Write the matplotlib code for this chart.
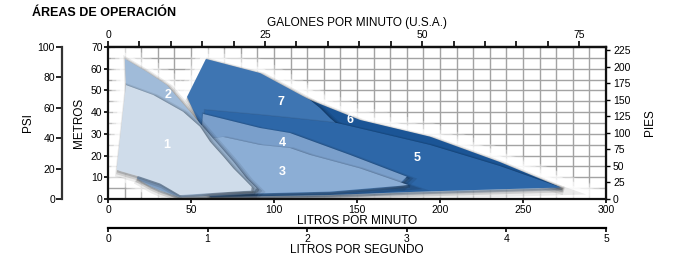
import matplotlib
matplotlib.use("Agg")
import matplotlib.pyplot as plt
import matplotlib.patheffects as pe

plt.rcParams['font.family'] = ['Liberation Sans', 'DejaVu Sans']

# Operating areas, outlines (x: l/min, y: m)
area1_lpm = [10.8, 27.3, 45.2, 55.4, 61.4, 69.5, 75.5, 81.5, 86.6, 86.0, 43.4, 31.3, 19.3, 5.2]
area1_m = [52.5, 47.9, 40.2, 33.3, 26.4, 19.5, 14.1, 9.5, 5.5, 3.9, 1.8, 7.2, 10.3, 13.4]

area2_lpm = [10.2, 23.3, 35.4, 49.4, 61.4, 75.5, 83.5, 89.6, 88.0, 60.0, 30.0, 12.0]
area2_m = [64.5, 58.6, 52.5, 40.2, 29.5, 17.2, 9.5, 4.9, 3.8, 4.0, 15.0, 30.0]

area3_lpm = [69.3, 91.6, 109.6, 121.7, 151.8, 181.0, 133.7, 91.6, 43.4, 31.3, 25.3, 17.3, 22.0, 55.4]
area3_m = [28.6, 24.9, 23.5, 20.3, 14.1, 6.4, 3.4, 2.6, 0.8, 4.0, 6.0, 9.5, 16.0, 27.2]

area4_lpm = [57.2, 91.6, 109.6, 145.8, 180.0, 176.0, 85.5, 55.4]
area4_m = [39.2, 32.7, 30.4, 20.3, 10.3, 7.4, 13.4, 22.6]

area5_lpm = [58.4, 91.6, 109.6, 138.0, 194.0, 236.1, 272.9, 188.0, 132.0, 61.4, 55.4]
area5_m = [41.0, 38.7, 37.3, 35.0, 24.9, 15.2, 5.3, 3.4, 1.8, 0.9, 13.4]

area6_lpm = [115.7, 121.7, 151.8, 194.0, 236.1, 272.9, 194.0, 115.7]
area6_m = [47.0, 45.6, 36.4, 28.7, 17.0, 5.3, 22.6, 34.1]

area7_lpm = [59.0, 91.6, 121.7, 127.7, 133.7, 138.0, 138.0, 55.4, 47.6]
area7_m = [64.5, 58.0, 45.6, 41.9, 37.3, 34.5, 29.5, 34.1, 47.0]

area_labels = ["1", "2", "3", "4", "5", "6", "7"]
label_lpm = [35.5, 36.1, 104.8, 104.8, 186.1, 145.8, 104.2]
label_m = [24.9, 47.9, 12.4, 25.8, 18.9, 36.4, 44.7]

colors = ["#cfdcea", "#a0bbd9", "#8caed5", "#7a9fcb", "#2d67a8", "#1b5596", "#3e75b2"]

areas = [(area1_lpm, area1_m), (area2_lpm, area2_m), (area3_lpm, area3_m),
         (area4_lpm, area4_m), (area5_lpm, area5_m), (area6_lpm, area6_m),
         (area7_lpm, area7_m)]
draw_order = [5, 6, 4, 3, 2, 1, 0]  # 6, 7, 5, 4, 3, 2, 1

fig = plt.figure(figsize=(6.85, 2.67), dpi=100)
ax = fig.add_axes([108 / 685, 1 - 199 / 267, 498 / 685, 152 / 267])
ax.set_xlim(0, 300)
ax.set_ylim(0, 70)

# grid
for x in range(10, 300, 10):
    ax.axvline(x, color="#a3a3a3", lw=1.0, zorder=0)
for y in range(5, 70, 5):
    ax.axhline(y, color="#a3a3a3", lw=1.0, zorder=0)

# soft white glow hiding the grid around the areas
for i in draw_order:
    xs, ys = areas[i]
    ax.fill(xs, ys, color="white", lw=0, zorder=1,
            path_effects=[pe.Stroke(linewidth=20, foreground="white", alpha=0.3),
                          pe.Stroke(linewidth=14, foreground="white", alpha=0.4),
                          pe.Stroke(linewidth=8, foreground="white", alpha=0.6),
                          pe.Normal()])

for k, i in enumerate(draw_order):
    xs, ys = areas[i]
    ax.fill(xs, ys, color=colors[i], lw=0, zorder=2 + k,
            path_effects=[pe.Stroke(offset=(2, -2.5), linewidth=6, foreground="k", alpha=0.08),
                          pe.Stroke(offset=(1.5, -1.8), linewidth=3.5, foreground="k", alpha=0.12),
                          pe.Stroke(offset=(1, -1.2), linewidth=1.5, foreground="k", alpha=0.15),
                          pe.Normal()])

for t, x, y in zip(area_labels, label_lpm, label_m):
    ax.text(x, y, t, color="white", fontsize=9, fontweight="bold",
            ha="center", va="center", zorder=20)

for s in ax.spines.values():
    s.set_linewidth(1.6)
    s.set_color("#111111")
    s.set_zorder(30)

ax.set_xticks(range(0, 301, 50))
ax.set_yticks(range(0, 71, 10))
ax.tick_params(labelsize=7.5, length=3, width=1.2, pad=1)
ax.set_xlabel("LITROS POR MINUTO", fontsize=8.5, labelpad=0)
ax.set_ylabel("METROS", fontsize=8.5, labelpad=4)

# top axis: U.S. gallons per minute
gpm = ax.secondary_xaxis("top", functions=(lambda x: x / 3.785, lambda x: x * 3.785))
gpm.set_xticks(range(0, 80, 5))
gpm.set_xticklabels([str(v) if v % 25 == 0 else "" for v in range(0, 80, 5)])
gpm.tick_params(labelsize=7.5, length=4, width=1.2, pad=1)
gpm.set_xlabel("GALONES POR MINUTO (U.S.A.)", fontsize=8.5, labelpad=3)
gpm.spines["top"].set_linewidth(1.6)

# right axis: feet
pies = ax.secondary_yaxis("right", functions=(lambda y: y * 3.2808, lambda y: y / 3.2808))
pies.set_yticks(range(0, 226, 25))
pies.tick_params(labelsize=7.5, length=3, width=1.0, pad=2)
pies.set_ylabel("PIES", fontsize=8.5, rotation=90, labelpad=10)

# outer left axis: psi (scale drawn so that 100 psi sits at the 70 m line)
psi = ax.secondary_yaxis(-46 / 498, functions=(lambda y: y * 100 / 70, lambda y: y * 70 / 100))
psi.set_yticks(range(0, 101, 20))
psi.tick_params(labelsize=7.5, length=4, width=1.2, pad=1)
psi.spines["left"].set_linewidth(1.6)
psi.spines["left"].set_color("#333333")
psi.set_ylabel("PSI", fontsize=8.5, labelpad=3)

# lower axis: litres per second
lps = ax.secondary_xaxis(-29 / 152, functions=(lambda x: x / 60, lambda x: x * 60))
lps.set_xticks(range(0, 6))
lps.tick_params(labelsize=7.5, length=3, width=1.2, pad=1)
lps.spines["bottom"].set_linewidth(1.6)
lps.set_xlabel("LITROS POR SEGUNDO", fontsize=8.5, labelpad=0)

fig.text(32 / 685, 1 - 13 / 267, "ÁREAS DE OPERACIÓN", fontsize=9, fontweight="bold",
         va="center")

fig.savefig("out.png", dpi=100)
